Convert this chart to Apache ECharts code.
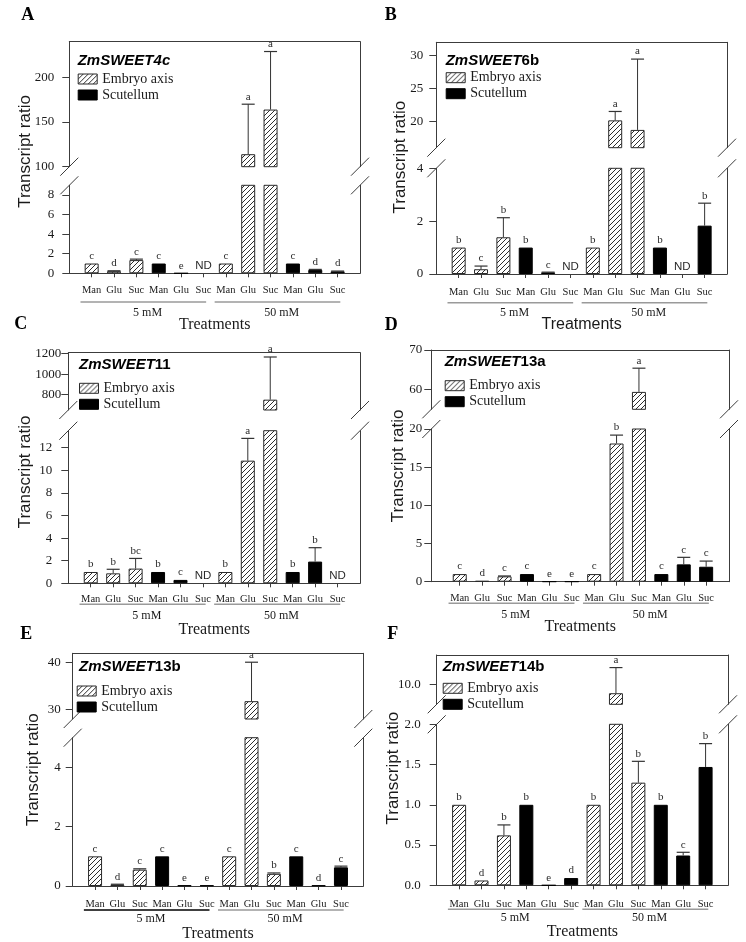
<!DOCTYPE html>
<html>
<head>
<meta charset="utf-8">
<script src="https://cdn.jsdelivr.net/npm/echarts@6/dist/echarts.min.js"></script>
<style>
html,body{margin:0;padding:0;background:#fff;}
#chart{width:746px;height:942px;}
</style>
</head>
<body>
<div id="chart"></div>
<script>
// ---------------- DATA ----------------
const categories = ['Man','Glu','Suc','Man','Glu','Suc','Man','Glu','Suc','Man','Glu','Suc'];
const concentrations = ['5 mM', '50 mM'];
const tissues = ['Embryo axis', 'Scutellum'];
const barTissue = [0,0,0,1,1,1,0,0,0,1,1,1];
const yTitle = 'Transcript ratio';
const xTitle = 'Treatments';

// Panel A  ZmSWEET4c
const aValues  = [1.0, 0.22, 1.35, 1.0, 0, null, 1.0, 114, 164, 1.0, 0.35, 0.2];
const aErrors  = [0, 0.04, 0.1, 0, 0, 0, 0, 56, 65, 0, 0.05, 0.03];
const aLetters = ['c','d','c','c','e','ND','c','a','a','c','d','d'];
const aLowerRange = [0, 9],   aUpperRange = [100, 240];
const aLowerTicks = [0, 2, 4, 6, 8], aUpperTicks = [100, 150, 200];

// Panel B  ZmSWEET6b
const bValues  = [1.0, 0.18, 1.39, 1.0, 0.06, null, 1.0, 20.15, 18.7, 1.0, null, 1.83];
const bErrors  = [0, 0.12, 0.74, 0, 0.01, 0, 0, 1.35, 10.75, 0, 0, 0.85];
const bLetters = ['b','c','b','b','c','ND','b','a','a','b','ND','b'];
const bLowerRange = [0, 4],   bUpperRange = [16, 32];
const bLowerTicks = [0, 2, 4], bUpperTicks = [20, 25, 30];

// Panel C  ZmSWEET11
const cValues  = [1.0, 0.88, 1.3, 1.0, 0.3, null, 1.0, 10.85, 751, 1.0, 1.92, null];
const cErrors  = [0, 0.36, 0.9, 0, 0, 0, 0, 1.97, 417, 0, 1.23, 0];
const cLetters = ['b','b','bc','b','c','ND','b','a','a','b','b','ND'];
const cLowerRange = [0, 13.5], cUpperRange = [650, 1210];
const cLowerTicks = [0, 2, 4, 6, 8, 10, 12], cUpperTicks = [800, 1000, 1200];

// Panel D  ZmSWEET13a
const dValues  = [1.0, 0.1, 0.7, 1.0, 0.02, 0.02, 1.0, 18.1, 59.4, 1.0, 2.27, 1.96];
const dErrors  = [0, 0, 0.05, 0, 0, 0, 0, 1.1, 6.0, 0, 0.92, 0.74];
const dLetters = ['c','d','c','c','e','e','c','b','a','c','c','c'];
const dLowerRange = [0, 20],  dUpperRange = [55, 70];
const dLowerTicks = [0, 5, 10, 15, 20], dUpperTicks = [60, 70];

// Panel E  ZmSWEET13b
const eValues  = [1.0, 0.05, 0.55, 1.0, 0.02, 0.02, 1.0, 31.8, 0.41, 1.0, 0.02, 0.63];
const eErrors  = [0, 0.01, 0.03, 0, 0, 0, 0, 8.3, 0.03, 0, 0, 0.04];
const eLetters = ['c','d','c','c','e','e','c','a','b','c','d','c'];
const eLowerRange = [0, 5],   eUpperRange = [28, 42];
const eLowerTicks = [0, 2, 4], eUpperTicks = [30, 40];

// Panel F  ZmSWEET14b
const fValues  = [1.0, 0.06, 0.62, 1.0, 0, 0.09, 1.0, 9.1, 1.275, 1.0, 0.37, 1.47];
const fErrors  = [0, 0, 0.13, 0, 0, 0, 0, 2.55, 0.265, 0, 0.04, 0.29];
const fLetters = ['b','d','b','b','e','d','b','a','b','b','c','b'];
const fLowerRange = [0, 2],   fUpperRange = [8, 12.9];
const fLowerTicks = [0, 0.5, 1.0, 1.5, 2.0], fUpperTicks = [10];

const panels = [
  {letter:'A', gene:['ZmSWEET4c',''], values:aValues, errors:aErrors, letters:aLetters, lowerRange:aLowerRange, upperRange:aUpperRange, lowerTicks:aLowerTicks, upperTicks:aUpperTicks, decimals:0},
  {letter:'B', gene:['ZmSWEET','6b'], values:bValues, errors:bErrors, letters:bLetters, lowerRange:bLowerRange, upperRange:bUpperRange, lowerTicks:bLowerTicks, upperTicks:bUpperTicks, decimals:0},
  {letter:'C', gene:['ZmSWEET','11'], values:cValues, errors:cErrors, letters:cLetters, lowerRange:cLowerRange, upperRange:cUpperRange, lowerTicks:cLowerTicks, upperTicks:cUpperTicks, decimals:0},
  {letter:'D', gene:['ZmSWEET','13a'], values:dValues, errors:dErrors, letters:dLetters, lowerRange:dLowerRange, upperRange:dUpperRange, lowerTicks:dLowerTicks, upperTicks:dUpperTicks, decimals:0},
  {letter:'E', gene:['ZmSWEET','13b'], values:eValues, errors:eErrors, letters:eLetters, lowerRange:eLowerRange, upperRange:eUpperRange, lowerTicks:eLowerTicks, upperTicks:eUpperTicks, decimals:0},
  {letter:'F', gene:['ZmSWEET','14b'], values:fValues, errors:fErrors, letters:fLetters, lowerRange:fLowerRange, upperRange:fUpperRange, lowerTicks:fLowerTicks, upperTicks:fUpperTicks, decimals:1}
];

// ---------------- LAYOUT / STYLE ----------------
const SERIF = '"Liberation Serif","Times New Roman",serif';
const SANS = '"Liberation Sans",Arial,sans-serif';
const AXIS = '#3c3c3c';
const TEXT = '#1a1a1a';
const GRAY = '#9a9a9a';

const layouts = [
  {left:69.3, right:360, top:41.7, ub:166.7, lt:185.3, bottom:273.3, xmin:-1, xmax:12, yLabM:[15,15], xLabM:11.7, lineOff:28.7, grpOff:39.7, trGap:43.7, yNameGap:35.8, yNameShift:6, trFont:SERIF, legend:[77.7,74], gene:[77.7,62], letter:[27.7,16], lineColors:[GRAY,GRAY]},
  {left:436.3, right:727, top:42.3, ub:147.7, lt:168.3, bottom:274, xmin:-1, xmax:12, yLabM:[13,13], xLabM:12.7, lineOff:28.7, grpOff:39.3, trGap:43, yNameGap:27, yNameShift:1, trFont:SANS, legend:[445.7,72.7], gene:[445.7,61.7], letter:[391.3,16], lineColors:[GRAY,GRAY]},
  {left:68.3, right:360, top:352.7, ub:410, lt:430.7, bottom:583.3, xmin:-1, xmax:12, yLabM:[16,7], xLabM:11, lineOff:21, grpOff:32.7, trGap:38, yNameGap:34, yNameShift:-4, trFont:SERIF, legend:[79,383.3], gene:[79,366], letter:[20.7,325], lineColors:[GRAY,GRAY]},
  {left:431.3, right:729, top:350, ub:409.3, lt:429, bottom:581.7, xmin:-1.27, xmax:12.02, yLabM:[9,9], xLabM:11, lineOff:21.6, grpOff:32.8, trGap:37, yNameGap:24.8, yNameShift:0, trFont:SERIF, legend:[444.7,380.7], gene:[444.7,362.7], letter:[391.3,326], lineColors:[GRAY,GRAY]},
  {left:72.7, right:363.3, top:653.3, ub:719, lt:737.7, bottom:886, xmin:-1, xmax:12, yLabM:[12,12], xLabM:13.3, lineOff:24, grpOff:33, trGap:39.3, yNameGap:31, yNameShift:0, trFont:SERIF, legend:[76.7,686], gene:[79,668.3], letter:[26.7,635], lineColors:['#000',GRAY]},
  {left:436.7, right:728, top:655, ub:704.3, lt:724.3, bottom:885.3, xmin:-1, xmax:12, yLabM:[16,16], xLabM:14, lineOff:24, grpOff:33, trGap:38.4, yNameGap:35.2, yNameShift:2, trFont:SERIF, legend:[442.7,683.3], gene:[442.7,668.3], letter:[393.7,635], lineColors:[GRAY,GRAY]}
];

function makeHatch() {
  const s = 5;
  const c = document.createElement('canvas');
  c.width = s; c.height = s;
  const g = c.getContext('2d');
  g.fillStyle = '#ffffff';
  g.fillRect(0, 0, s, s);
  g.strokeStyle = '#2e2e2e';
  g.lineWidth = 1;
  g.beginPath();
  g.moveTo(-1, 1); g.lineTo(1, -1);
  g.moveTo(0, s); g.lineTo(s, 0);
  g.moveTo(s - 1, s + 1); g.lineTo(s + 1, s - 1);
  g.stroke();
  return c;
}
const HATCH = { image: makeHatch(), repeat: 'repeat' };
const tissueStyles = [
  { color: HATCH, borderColor: '#2a2a2a', borderWidth: 1 },
  { color: '#000000', borderColor: '#000000', borderWidth: 1 }
];
const catIdx = categories.map((_, i) => i);

function fmt(v, d) { return d ? Number(v).toFixed(d) : String(v); }

function errorSeries(p, seg, xi, yi) {
  const lowerMax = p.lowerRange[1];
  const data = [];
  p.values.forEach((v, j) => {
    const base = v == null ? 0 : v;
    const top = base + (p.errors[j] || 0);
    const isUpper = top > lowerMax;
    if ((seg === 'upper') === isUpper) data.push([j, base, top]);
  });
  return {
    type: 'custom', xAxisIndex: xi, yAxisIndex: yi, data: data, silent: true, z: 6, clip: false,
    renderItem: function (params, api) {
      const j = api.value(0);
      const b = api.coord([j, api.value(1)]);
      const t = api.coord([j, api.value(2)]);
      const children = [];
      if (api.value(2) > api.value(1)) {
        children.push({ type: 'line', shape: { x1: b[0], y1: b[1], x2: t[0], y2: t[1] }, style: { stroke: '#333', lineWidth: 1 } });
        children.push({ type: 'line', shape: { x1: t[0] - 6.5, y1: t[1], x2: t[0] + 6.5, y2: t[1] }, style: { stroke: '#333', lineWidth: 1.2 } });
      }
      const lab = p.letters[j];
      const isND = lab === 'ND';
      children.push({
        type: 'text', x: t[0], y: t[1] - (isND ? 1 : 2),
        style: { text: lab, fill: '#2a2a2a', fontFamily: isND ? SANS : SERIF, fontSize: isND ? 11.5 : 11, align: 'center', verticalAlign: 'bottom' }
      });
      return { type: 'group', children: children };
    }
  };
}

const option = {
  animation: false,
  backgroundColor: '#ffffff',
  textStyle: { fontFamily: SERIF },
  title: [], legend: [], grid: [], xAxis: [], yAxis: [], series: []
};

panels.forEach((p, i) => {
  const L = layouts[i];
  const W = L.right - L.left;
  const gU = option.grid.length;
  option.grid.push({ left: L.left, top: L.top, width: W, height: L.ub - L.top, outerBoundsMode: 'none' });
  option.grid.push({ left: L.left, top: L.lt, width: W, height: L.bottom - L.lt, outerBoundsMode: 'none' });
  option.grid.push({ left: L.left, top: L.top - L.yNameShift, width: W, height: L.bottom - L.top, outerBoundsMode: 'none' });
  const gL = gU + 1, gF = gU + 2;

  const lineStyle = { color: AXIS, width: 1 };
  const xU = option.xAxis.length;
  option.xAxis.push({ type: 'value', gridIndex: gU, position: 'top', min: L.xmin, max: L.xmax,
    axisLine: { show: true, onZero: false, lineStyle: lineStyle }, axisTick: { show: false }, axisLabel: { show: false }, splitLine: { show: false } });
  option.xAxis.push({ type: 'value', gridIndex: gL, position: 'bottom', min: L.xmin, max: L.xmax,
    axisLine: { show: true, onZero: false, lineStyle: lineStyle },
    axisTick: { show: true, customValues: catIdx, length: 4, lineStyle: lineStyle },
    axisLabel: { show: true, customValues: catIdx, formatter: v => categories[Math.round(v)], fontFamily: SERIF, fontSize: 10.5, color: TEXT, margin: L.xLabM - 0.3 },
    splitLine: { show: false },
    name: xTitle, nameLocation: 'middle', nameGap: L.trGap, nameMoveOverlap: false,
    nameTextStyle: { fontFamily: L.trFont, fontSize: 16, color: TEXT } });
  option.xAxis.push({ type: 'value', gridIndex: gF, show: false, min: 0, max: 1 });
  const xL = xU + 1;

  const yU = option.yAxis.length;
  const mkLeft = (grid, range, ticks, margin) => ({ type: 'value', gridIndex: grid, position: 'left', min: range[0], max: range[1],
    axisLine: { show: true, onZero: false, lineStyle: lineStyle },
    axisTick: { show: true, customValues: ticks, length: 7, lineStyle: lineStyle },
    axisLabel: { show: true, customValues: ticks, formatter: v => fmt(v, p.decimals), fontFamily: SERIF, fontSize: 13, color: TEXT, margin: margin },
    splitLine: { show: false } });
  const mkRight = (grid, range) => ({ type: 'value', gridIndex: grid, position: 'right', min: range[0], max: range[1],
    axisLine: { show: true, onZero: false, lineStyle: lineStyle }, axisTick: { show: false }, axisLabel: { show: false }, splitLine: { show: false } });
  option.yAxis.push(mkLeft(gU, p.upperRange, p.upperTicks, L.yLabM[1]));
  option.yAxis.push(mkRight(gU, p.upperRange));
  option.yAxis.push(mkLeft(gL, p.lowerRange, p.lowerTicks, L.yLabM[0]));
  option.yAxis.push(mkRight(gL, p.lowerRange));
  option.yAxis.push({ type: 'value', gridIndex: gF, min: 0, max: 1, axisLine: { show: false }, axisTick: { show: false }, axisLabel: { show: false }, splitLine: { show: false },
    name: yTitle, nameLocation: 'middle', nameGap: L.yNameGap, nameMoveOverlap: false,
    nameTextStyle: { fontFamily: SANS, fontSize: 17, color: TEXT } });
  const yL = yU + 2;

  [['lower', xL, yL, p.lowerRange], ['upper', xU, yU, p.upperRange]].forEach(([seg, xi, yi, range]) => {
    tissues.forEach((t, ti) => {
      const data = [];
      p.values.forEach((v, j) => {
        if (barTissue[j] !== ti || v == null) return;
        if (seg === 'upper' && v <= range[0]) return;
        data.push([j, v]);
      });
      option.series.push({ type: 'bar', name: t, xAxisIndex: xi, yAxisIndex: yi, data: data,
        barWidth: 14, barGap: '-100%', clip: true, silent: true, z: 3, itemStyle: tissueStyles[ti] });
    });
    option.series.push(errorSeries(p, seg, xi, yi));
  });

  option.legend.push({
    left: L.legend[0], top: L.legend[1] - 2.5, orient: 'vertical', padding: 0,
    itemWidth: 19, itemHeight: 10, itemGap: 1, icon: 'rect', selectedMode: false,
    textStyle: { fontFamily: SERIF, fontSize: 14, color: TEXT, lineHeight: 15 },
    data: tissues.map((t, ti) => ({ name: t, itemStyle: tissueStyles[ti] }))
  });

  option.title.push({
    text: p.letter, left: L.letter[0] - 6.5, top: L.letter[1] - 10, padding: 0,
    textStyle: { fontFamily: SERIF, fontWeight: 'bold', fontSize: 18, color: '#000' }
  });
  const geneText = '{i|' + p.gene[0] + '}' + (p.gene[1] ? '{b|' + p.gene[1] + '}' : '');
  option.title.push({
    text: geneText, left: L.gene[0], top: L.gene[1] - 8.5, padding: 0,
    textStyle: { rich: {
      i: { fontFamily: SANS, fontStyle: 'italic', fontWeight: 'bold', fontSize: 15, color: '#000' },
      b: { fontFamily: SANS, fontWeight: 'bold', fontSize: 15, color: '#000' }
    } }
  });
});

const chart = echarts.init(document.getElementById('chart'), null, { renderer: 'canvas' });
chart.setOption(option);

// Group underlines, concentration labels and axis-break marks
const graphics = [];
panels.forEach((p, i) => {
  const L = layouts[i];
  const xi = 3 * i + 1;
  concentrations.forEach((c, k) => {
    const first = k * 6, last = k * 6 + 5;
    const x1 = chart.convertToPixel({ xAxisIndex: xi }, first - 0.5);
    const x2 = chart.convertToPixel({ xAxisIndex: xi }, last + 0.12);
    const xc = chart.convertToPixel({ xAxisIndex: xi }, (first + last) / 2);
    const yLine = L.bottom + L.lineOff;
    graphics.push({ type: 'line', silent: true, shape: { x1: x1, y1: yLine, x2: x2, y2: yLine }, style: { stroke: L.lineColors[k], lineWidth: 1.5 } });
    graphics.push({ type: 'text', silent: true, x: xc, y: L.bottom + L.grpOff,
      style: { text: c, fontFamily: SERIF, fontSize: 12, fill: TEXT, align: 'center', verticalAlign: 'middle' } });
  });
  [L.left, L.right].forEach(x => [L.ub, L.lt].forEach(y => {
    graphics.push({ type: 'line', silent: true, shape: { x1: x - 9, y1: y + 9, x2: x + 9, y2: y - 9 }, style: { stroke: AXIS, lineWidth: 1 } });
  }));
});
chart.setOption({ graphic: graphics });
</script>
</body>
</html>
